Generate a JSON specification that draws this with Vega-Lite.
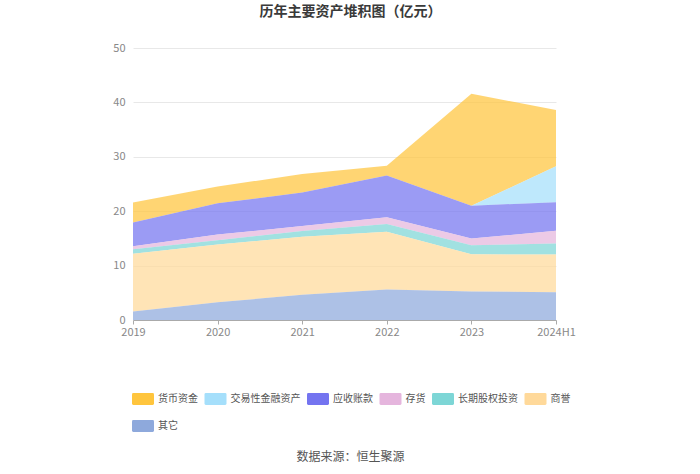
{
  "$schema": "https://vega.github.io/schema/vega-lite/v6.json",
  "autosize": {"type": "none"},
  "width": 423,
  "height": 272,
  "padding": {"left": 133, "top": 48, "right": 144, "bottom": 154},
  "background": "white",
  "config": {
    "font": "Noto Sans CJK SC",
    "view": {"stroke": null}
  },
  "title": {
    "text": "历年主要资产堆积图（亿元）",
    "fontSize": 14,
    "fontWeight": "bold",
    "color": "#3a3a3a",
    "anchor": "middle",
    "offset": 23,
    "dx": 6
  },
  "data": {
    "values": [
      {"year": "2019", "item": "货币资金", "o": 7, "v": 3.7},
      {"year": "2019", "item": "交易性金融资产", "o": 6, "v": 0},
      {"year": "2019", "item": "应收账款", "o": 5, "v": 4.34},
      {"year": "2019", "item": "存货", "o": 4, "v": 0.56},
      {"year": "2019", "item": "长期股权投资", "o": 3, "v": 0.8},
      {"year": "2019", "item": "商誉", "o": 2, "v": 10.66},
      {"year": "2019", "item": "其它", "o": 1, "v": 1.54},
      {"year": "2020", "item": "货币资金", "o": 7, "v": 3.09},
      {"year": "2020", "item": "交易性金融资产", "o": 6, "v": 0},
      {"year": "2020", "item": "应收账款", "o": 5, "v": 5.73},
      {"year": "2020", "item": "存货", "o": 4, "v": 1.05},
      {"year": "2020", "item": "长期股权投资", "o": 3, "v": 0.8},
      {"year": "2020", "item": "商誉", "o": 2, "v": 10.6},
      {"year": "2020", "item": "其它", "o": 1, "v": 3.27},
      {"year": "2021", "item": "货币资金", "o": 7, "v": 3.39},
      {"year": "2021", "item": "交易性金融资产", "o": 6, "v": 0},
      {"year": "2021", "item": "应收账款", "o": 5, "v": 6.17},
      {"year": "2021", "item": "存货", "o": 4, "v": 0.92},
      {"year": "2021", "item": "长期股权投资", "o": 3, "v": 1.05},
      {"year": "2021", "item": "商誉", "o": 2, "v": 10.67},
      {"year": "2021", "item": "其它", "o": 1, "v": 4.62},
      {"year": "2022", "item": "货币资金", "o": 7, "v": 1.79},
      {"year": "2022", "item": "交易性金融资产", "o": 6, "v": 0},
      {"year": "2022", "item": "应收账款", "o": 5, "v": 7.7},
      {"year": "2022", "item": "存货", "o": 4, "v": 1.24},
      {"year": "2022", "item": "长期股权投资", "o": 3, "v": 1.42},
      {"year": "2022", "item": "商誉", "o": 2, "v": 10.6},
      {"year": "2022", "item": "其它", "o": 1, "v": 5.61},
      {"year": "2023", "item": "货币资金", "o": 7, "v": 20.58},
      {"year": "2023", "item": "交易性金融资产", "o": 6, "v": 0},
      {"year": "2023", "item": "应收账款", "o": 5, "v": 6.04},
      {"year": "2023", "item": "存货", "o": 4, "v": 1.23},
      {"year": "2023", "item": "长期股权投资", "o": 3, "v": 1.67},
      {"year": "2023", "item": "商誉", "o": 2, "v": 6.84},
      {"year": "2023", "item": "其它", "o": 1, "v": 5.24},
      {"year": "2024H1", "item": "货币资金", "o": 7, "v": 10.36},
      {"year": "2024H1", "item": "交易性金融资产", "o": 6, "v": 6.6},
      {"year": "2024H1", "item": "应收账款", "o": 5, "v": 5.24},
      {"year": "2024H1", "item": "存货", "o": 4, "v": 2.34},
      {"year": "2024H1", "item": "长期股权投资", "o": 3, "v": 2.04},
      {"year": "2024H1", "item": "商誉", "o": 2, "v": 6.9},
      {"year": "2024H1", "item": "其它", "o": 1, "v": 5.12}
    ]
  },
  "mark": {"type": "area", "opacity": 0.72, "interpolate": "linear"},
  "encoding": {
    "x": {
      "field": "year",
      "type": "ordinal",
      "scale": {"type": "point", "padding": 0},
      "axis": {
        "labelAngle": 0,
        "labelColor": "#888",
        "labelFontSize": 11,
        "labelFont": "Noto Sans CJK SC",
        "domainColor": "#aaa",
        "tickColor": "#aaa",
        "tickSize": 4,
        "labelPadding": 2,
        "grid": false,
        "title": "数据来源：恒生聚源",
        "titleFontSize": 12,
        "titleFontWeight": "normal",
        "titleColor": "#555",
        "titlePadding": 114,
        "titleX": 217
      }
    },
    "y": {
      "field": "v",
      "type": "quantitative",
      "stack": "zero",
      "scale": {"domain": [0, 50], "nice": false},
      "axis": {
        "values": [0, 10, 20, 30, 40, 50],
        "title": null,
        "domain": false,
        "ticks": false,
        "labelColor": "#888",
        "labelFontSize": 11,
        "labelPadding": 8,
        "gridColor": "#e8e8e8"
      }
    },
    "color": {
      "field": "item",
      "type": "nominal",
      "scale": {
        "domain": ["货币资金", "交易性金融资产", "应收账款", "存货", "长期股权投资", "商誉", "其它"],
        "range": ["#FFC53D", "#A5DFFB", "#7474F0", "#E5B5DD", "#7DD6D6", "#FFD99A", "#8EA9DC"]
      },
      "legend": {
        "title": null,
        "orient": "none",
        "legendX": -1,
        "legendY": 340,
        "direction": "horizontal",
        "columns": 6,
        "gridAlign": "none",
        "symbolType": "M-1,-0.42 Q-1,-0.545 -0.88,-0.545 L0.88,-0.545 Q1,-0.545 1,-0.42 L1,0.42 Q1,0.545 0.88,0.545 L-0.88,0.545 Q-1,0.545 -1,0.42 Z",
        "symbolSize": 484,
        "symbolOpacity": 1,
        "symbolStrokeWidth": 0,
        "labelFontSize": 10,
        "labelColor": "#555",
        "labelOffset": 4,
        "columnPadding": 6.5,
        "rowPadding": 10
      }
    },
    "order": {"field": "o", "type": "quantitative", "sort": "ascending"}
  }
}
